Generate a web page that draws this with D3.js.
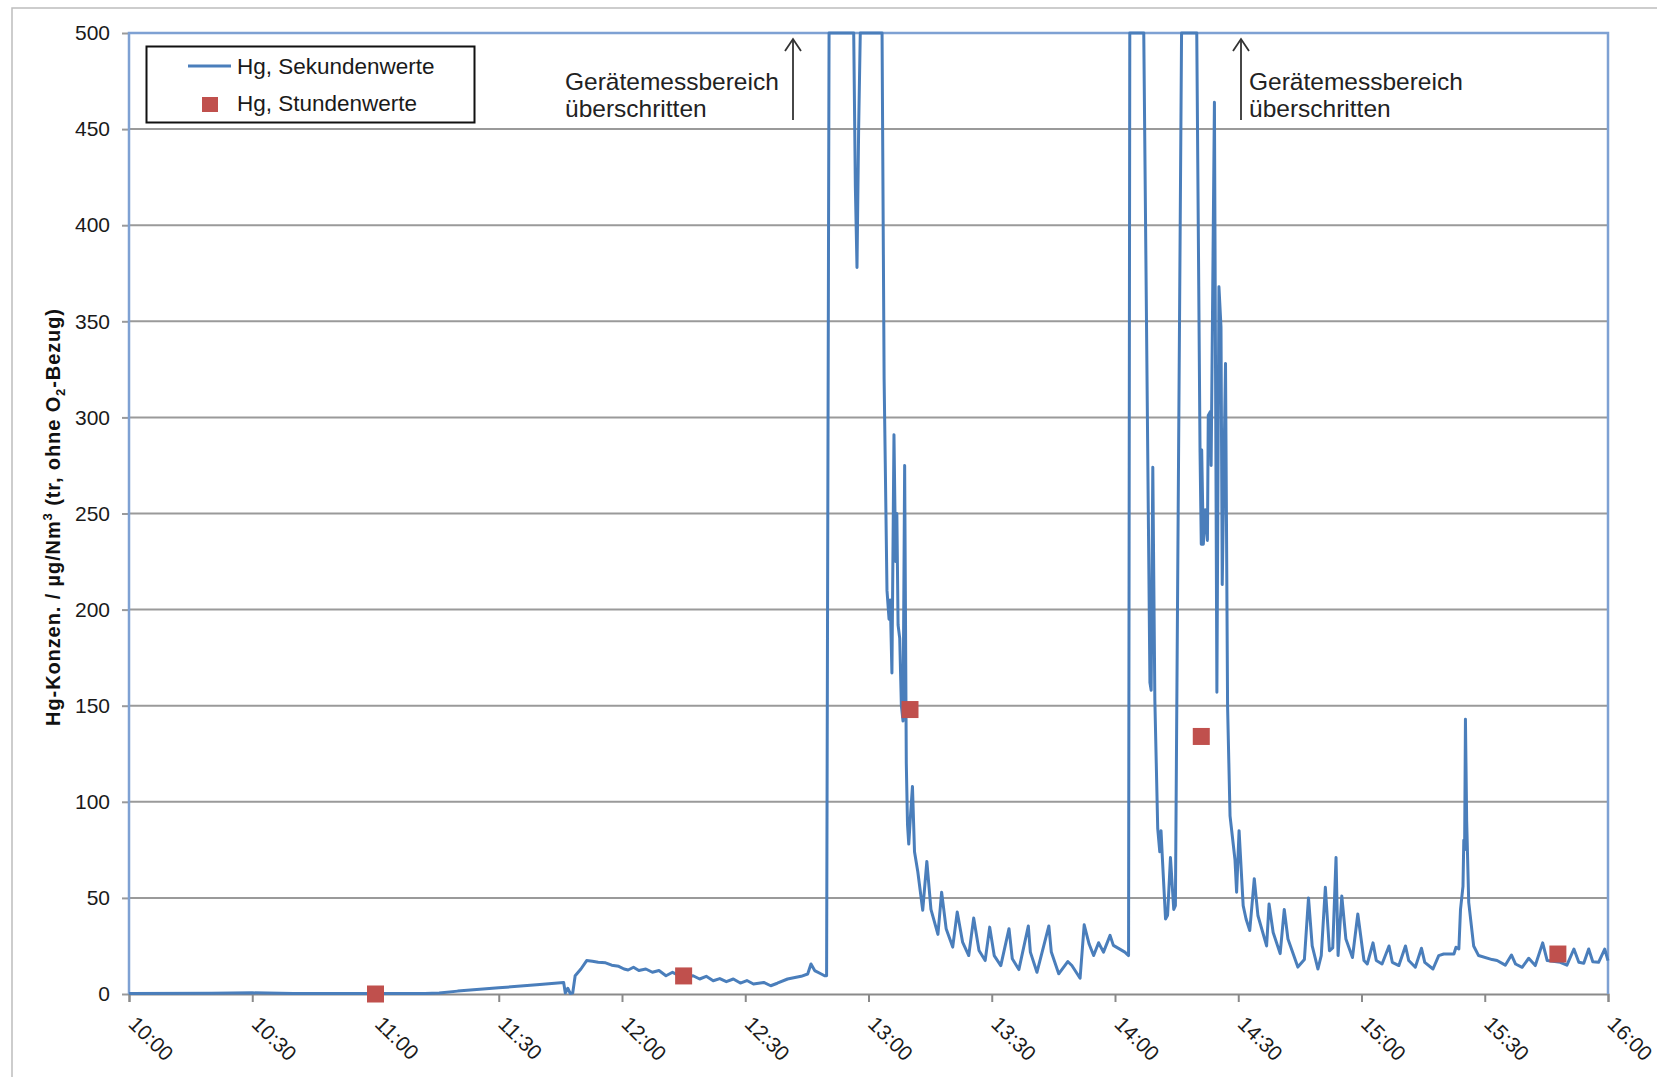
<!DOCTYPE html>
<html>
<head>
<meta charset="utf-8">
<script src="https://cdn.jsdelivr.net/npm/d3@7"></script>
<style>
body { margin: 0; background: #fff; }
svg { display: block; font-family: "Liberation Sans", Arial, sans-serif; }
</style>
</head>
<body>
<svg width="1657" height="1077"></svg>
<script>
// minutes after 10:00 and Hg values (µg/Nm³)
const secMinutes = [0, 20, 30, 40, 60, 72, 75.5, 80, 90, 100, 105.8, 106.2, 106.8, 107.4, 108, 108.6, 110, 111.4, 112.8, 114.2,
  116, 117.5, 119.2, 120.5, 121.5, 122.8, 124.1, 125.8, 127.4, 129, 130.7, 132.3, 134.8, 137.3, 138.9, 140.5, 142.2, 143.8,
  145.4, 147.1, 148.8, 150.4, 152, 154.5, 156.2, 157.8, 160.3, 163.6, 165.2, 166, 166.9, 168.5, 169.3, 169.8,
  170.4, 176.4, 176.8, 177.2, 177.6, 178.0, 183.3, 183.8, 184.5, 185.0, 185.3, 185.7, 186.2, 186.6, 186.9, 187.2, 187.6,
  188.0, 188.4, 188.8, 189.2, 189.5, 189.8, 190.2, 190.7, 191.2, 192.0, 193.2, 194.2, 195.2, 196.9, 197.8, 198.9, 200.5,
  201.6, 202.9, 204.4, 205.6, 206.9, 208.4, 209.5, 210.6, 212.2, 214.2, 215, 216.6, 218.9, 219.4, 221, 223.9, 224.5,
  226.3, 228.5, 229.5, 231.5, 232.5, 233.7, 234.8, 236, 237.2, 238.8, 239.6, 242.4, 243.3, 243.6, 247.0, 248.5, 248.8,
  249.2, 249.7, 250.4, 250.9, 251.2, 251.5, 252.3, 252.8, 253.5, 254.3, 254.7, 256.2, 259.9, 260.7, 261.0, 261.1, 261.5,
  262.0, 262.5, 262.7, 263.2, 263.4, 264.2, 264.8, 265.3, 265.8, 266.1, 266.9, 267.4, 268, 269.2, 269.6, 270.2, 271.2, 271.9,
  272.8, 273.9, 274.8, 276.9, 277.5, 278.5, 280.2, 281.2, 282.1, 284.5, 286.1, 287.1, 288, 289.4, 290.2, 291.2, 292.2,
  293, 293.8, 294.3, 295.2, 296.2, 297.8, 299.1, 300.6, 301.4, 302.8, 303.6, 305, 306.7, 307.5, 309.1, 310.7, 311.5,
  313.1, 314.6, 315.4, 317.4, 318.8, 320, 322.5, 323, 323.7, 324.1, 324.7, 324.9, 325.1, 325.3, 325.6, 326.1, 327.3,
  328.5, 331.8, 333, 335, 336.5, 337.5, 339.1, 340.7, 342.3, 344.1, 345.2, 348.4, 350, 351.7, 352.9, 354.1, 355.3,
  356.3, 357.7, 359.2, 360];
const secValues = [0.3, 0.4, 0.6, 0.3, 0.2, 0.2, 0.5, 1.5, 3.2, 5, 6, 0.5, 3, 0.3, 0.5, 9.5, 13, 17.4, 17, 16.5,
  16.2, 15, 14.4, 13, 12.5, 13.9, 12.2, 13, 11.3, 12.2, 9.5, 11.3, 8.7, 9.5, 7.8, 9.2, 6.9, 8,
  6.4, 7.8, 5.7, 7, 5.2, 6, 4.3, 5.6, 7.8, 9.2, 10.4, 15.6, 12.2, 10.4, 9.5, 9.5,
  500, 500, 420, 378, 450, 500, 500, 320, 210, 195, 205, 167, 291, 225, 250, 192, 185,
  150, 142, 275, 120, 88, 78, 92, 108, 74, 63.6, 43.6, 69, 44, 31, 53, 34, 24.4,
  42.7, 27, 20, 39.5, 22.6, 17.4, 34.8, 20, 14.8, 34, 18.3, 12.7, 35.4, 21.8, 11.3, 35.4, 21.8,
  10.5, 16.9, 14.8, 8.2, 36, 26, 20, 26.7, 21.8, 30.5, 25.3, 21.8, 20, 500, 500, 162, 158,
  274, 153, 86, 74, 85, 72, 39, 41, 71, 44, 46, 500, 500, 282, 234, 283, 234,
  252, 236, 301, 303, 275, 464, 157, 368, 347, 213, 328, 150, 92.7, 70, 53, 85, 46, 39,
  33, 60, 40.7, 25, 46.8, 32, 21, 44, 28.6, 14, 18, 50, 25, 13, 20, 55.5, 22.5,
  24, 71, 20, 51, 28.6, 19, 41.6, 17.4, 15.6, 26.6, 17.4, 15.6, 25, 16.5, 14.8, 25, 17.4,
  13.9, 23.8, 16.5, 13, 20, 20.8, 20.8, 24.3, 23.4, 44, 56, 80, 75, 143, 90, 47.7, 25,
  20, 17.9, 17.4, 15, 20.3, 15.6, 13.9, 18.6, 14.8, 26.6, 17.4, 16.5, 15, 23.4, 16.5, 16, 23.4,
  16.8, 16.5, 23.4, 17.4];

const hourMinutes = [60, 135, 190.1, 261, 347.8];
const hourValues = [0, 9.4, 148, 134, 20.8];

const yTicks = [0, 50, 100, 150, 200, 250, 300, 350, 400, 450, 500];
const xTickLabels = ["10:00", "10:30", "11:00", "11:30", "12:00", "12:30", "13:00",
  "13:30", "14:00", "14:30", "15:00", "15:30", "16:00"];
const seriesNames = ["Hg, Sekundenwerte", "Hg, Stundenwerte"];
const noteText = ["Gerätemessbereich", "überschritten"];

const blue = "#4a7ebb", red = "#c0504d";
const svg = d3.select("svg");
const pl = { l: 129, r: 1608, t: 33, b: 994 };

const parseHM = d3.timeParse("%H:%M");
const start = parseHM(xTickLabels[0]);
const toDate = m => new Date(start.getTime() + m * 60000);

const x = d3.scaleTime()
    .domain([start, parseHM(xTickLabels[xTickLabels.length - 1])])
    .range([pl.l, pl.r]);
const y = d3.scaleLinear().domain([0, 500]).range([pl.b, pl.t]);

// outer chart frame
svg.append("rect")
    .attr("x", 12).attr("y", 8)
    .attr("width", 1700).attr("height", 1100)
    .attr("fill", "none").attr("stroke", "#bdbdbd").attr("stroke-width", 1.5);

// gridlines
svg.append("g")
    .selectAll("line")
    .data(yTicks.filter(d => d > 0 && d < 500))
    .enter().append("line")
    .attr("x1", pl.l).attr("x2", pl.r)
    .attr("y1", d => y(d)).attr("y2", d => y(d))
    .attr("stroke", "#9a9a9a").attr("stroke-width", 2);

// y axis
const yAxis = svg.append("g")
    .attr("transform", `translate(${pl.l},0)`)
    .call(d3.axisLeft(y).tickValues(yTicks).tickSize(7).tickPadding(12));
yAxis.select(".domain").remove();
yAxis.selectAll(".tick line").attr("stroke", "#9a9a9a").attr("stroke-width", 2);
yAxis.selectAll(".tick text")
    .attr("font-family", "Liberation Sans, Arial, sans-serif")
    .attr("font-size", 21).attr("fill", "#1a1a1a");

// x axis
const xAxis = svg.append("g")
    .attr("transform", `translate(0,${pl.b})`)
    .call(d3.axisBottom(x)
        .tickValues(xTickLabels.map(parseHM))
        .tickFormat(d3.timeFormat("%H:%M"))
        .tickSize(8));
xAxis.select(".domain").attr("stroke", "#8a8a8a").attr("stroke-width", 2);
xAxis.selectAll(".tick line").attr("stroke", "#8a8a8a").attr("stroke-width", 2);
xAxis.selectAll(".tick text")
    .attr("font-family", "Liberation Sans, Arial, sans-serif")
    .attr("font-size", 21).attr("fill", "#1a1a1a")
    .attr("text-anchor", "start")
    .attr("y", 0).attr("dy", "0.75em")
    .attr("transform", "translate(9,20) rotate(45)");

// plot area border (blue), top/left/right
svg.append("path")
    .attr("d", `M${pl.l},${pl.b}V${pl.t}H${pl.r}V${pl.b}`)
    .attr("fill", "none").attr("stroke", "#7ea1d3").attr("stroke-width", 2.5);

// second values line
const line = d3.line()
    .x((d, i) => x(toDate(secMinutes[i])))
    .y(d => y(d));
svg.append("path")
    .datum(secValues)
    .attr("d", line)
    .attr("fill", "none").attr("stroke", blue)
    .attr("stroke-width", 3).attr("stroke-linejoin", "round");

// hourly squares
svg.append("g")
    .selectAll("rect")
    .data(hourValues)
    .enter().append("rect")
    .attr("x", (d, i) => x(toDate(hourMinutes[i])) - 8.5)
    .attr("y", d => y(d) - 8.5)
    .attr("width", 17).attr("height", 17)
    .attr("fill", red);

// annotations
function note(ax, tx) {
    const g = svg.append("g").attr("fill", "#222").attr("font-size", 24.5);
    g.append("line")
        .attr("x1", ax).attr("x2", ax).attr("y1", 120).attr("y2", 39)
        .attr("stroke", "#333").attr("stroke-width", 1.8);
    g.append("path")
        .attr("d", `M${ax - 8},${51}L${ax},${39}L${ax + 8},${51}`)
        .attr("fill", "none").attr("stroke", "#333").attr("stroke-width", 1.8);
    g.selectAll("text").data(noteText).enter().append("text")
        .attr("x", tx).attr("y", (d, i) => 90 + i * 27)
        .text(d => d);
}
note(793, 565);
note(1241, 1249);

// legend
const lg = svg.append("g");
lg.append("rect")
    .attr("x", 146.5).attr("y", 46.5).attr("width", 328).attr("height", 76)
    .attr("fill", "#fff").attr("stroke", "#111").attr("stroke-width", 2);
lg.append("line")
    .attr("x1", 188).attr("x2", 231).attr("y1", 66).attr("y2", 66)
    .attr("stroke", blue).attr("stroke-width", 3);
lg.append("rect")
    .attr("x", 202).attr("y", 97).attr("width", 16).attr("height", 15)
    .attr("fill", red);
lg.selectAll("text").data(seriesNames).enter().append("text")
    .attr("x", 237).attr("y", (d, i) => 74 + i * 37)
    .attr("font-size", 22.5).attr("fill", "#1a1a1a")
    .text(d => d);

// y axis title
const yt = svg.append("text")
    .attr("transform", "translate(60,517) rotate(-90)")
    .attr("text-anchor", "middle")
    .attr("font-weight", "bold").attr("font-size", 20)
    .attr("letter-spacing", 0.9).attr("fill", "#111");
yt.append("tspan").text("Hg-Konzen. / µg/Nm");
yt.append("tspan").attr("dy", -8).attr("font-size", 13).text("3");
yt.append("tspan").attr("dy", 8).text(" (tr, ohne O");
yt.append("tspan").attr("dy", 5).attr("font-size", 13).text("2");
yt.append("tspan").attr("dy", -5).text("-Bezug)");
</script>
</body>
</html>
